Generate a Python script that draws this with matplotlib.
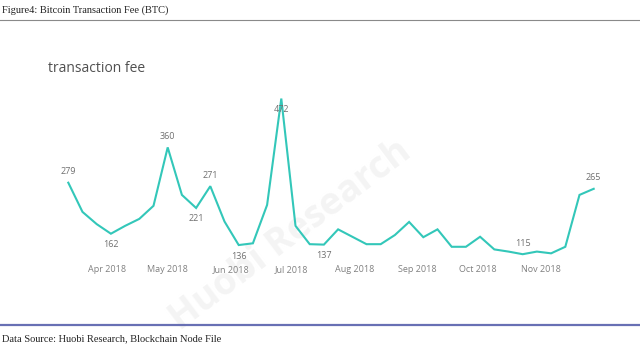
import matplotlib.pyplot as plt
import matplotlib.dates as mdates
import pandas as pd

# weekly average transaction fee
start = "2018-03-13"
fees = [279, 212, 184, 162, 180, 196, 226, 360, 251, 221,
        271, 190, 136, 140, 228, 472, 180, 138, 137, 172,
        155, 138, 138, 159, 189, 154, 172, 132, 132, 155,
        126, 121, 115, 121, 117, 132, 251, 265]
weeks = pd.date_range(start, periods=len(fees), freq="7D")

# index of labelled points and whether the label sits above (+) or below (-)
labelled = {0: 1, 3: -1, 7: 1, 9: -1, 10: 1, 12: -1, 15: -1, 18: -1, 32: 1, 37: 1}
label_text = {15: "472"}

W, H = 640, 351
fig = plt.figure(figsize=(W / 100, H / 100), dpi=100)
fig.patch.set_facecolor("white")

# header / footer like the report page
fig.text(2 / W, 1 - 10 / H, "Figure4: Bitcoin Transaction Fee (BTC)", family="Liberation Serif",
         fontsize=7.5, va="center", ha="left", color="#222222")
fig.add_artist(plt.Line2D([0, 1], [1 - 20 / H, 1 - 20 / H], color="#8a8a8a", lw=0.8))
fig.add_artist(plt.Line2D([0, 1], [1 - 325 / H, 1 - 325 / H], color="#6870b4", lw=1.6))
fig.text(2 / W, 1 - 339 / H, "Data Source: Huobi Research, Blockchain Node File", family="Liberation Serif",
         fontsize=7.5, va="center", ha="left", color="#222222")

# faint watermark, behind the chart
fig.text(290 / W, 1 - 235 / H, "Huobi Research", family="Open Sans", fontsize=27, fontweight="bold",
         rotation=37, color="#f4f4f4", ha="center", va="center", zorder=-1)

fig.text(48 / W, 1 - 68 / H, "transaction fee", family="Open Sans", fontsize=10,
         color="#505050", va="center", ha="left")

# axes placement: 14.2 px per week, 0.436 px per fee unit
px_day = 14.2 / 7
pad_days = 6.5
x0 = 68.3 - pad_days * px_day
width = (weeks[-1] - weeks[0]).days * px_day + 2 * pad_days * px_day
ylo, yhi = 100, 480
ybot = 182.7 + (279 - ylo) * 0.436
ytop = 182.7 - (yhi - 279) * 0.436
ax = fig.add_axes([x0 / W, 1 - ybot / H, width / W, (ybot - ytop) / H])
ax.set_facecolor("none")

ax.plot(weeks, fees, color="#33c7b9", lw=1.5, solid_joinstyle="miter", clip_on=False)
ax.set_xlim(weeks[0] - pd.Timedelta(days=pad_days), weeks[-1] + pd.Timedelta(days=pad_days))
ax.set_ylim(ylo, yhi)

for i, side in labelled.items():
    ax.annotate(label_text.get(i, str(fees[i])), (weeks[i], fees[i]),
                xytext=(0, 11 * side), textcoords="offset pixels",
                ha="center", va="center", fontsize=6.5, color="#707070", family="Open Sans")

ax.xaxis.set_major_locator(mdates.MonthLocator(bymonth=range(4, 12)))
ax.xaxis.set_major_formatter(mdates.DateFormatter("%b %Y"))
ax.tick_params(axis="x", length=0, labelsize=6.5, labelcolor="#808080", pad=3)
for lab in ax.get_xticklabels():
    lab.set_family("Open Sans")
ax.set_yticks([])
for s in ax.spines.values():
    s.set_visible(False)

fig.savefig("out.png", dpi=100)
